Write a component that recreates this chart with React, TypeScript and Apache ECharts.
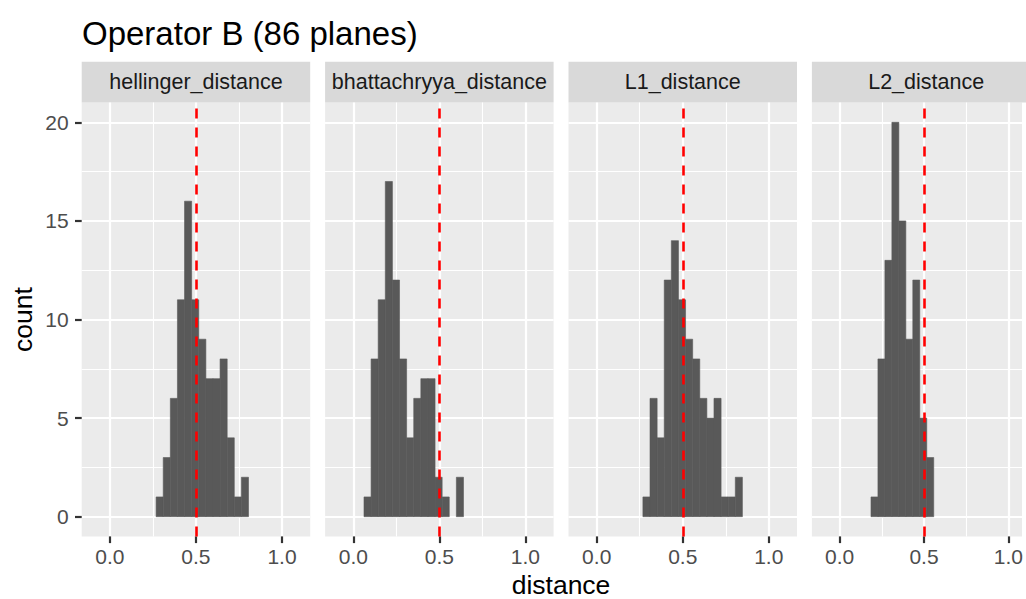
import React, { useEffect, useRef } from "react";
import * as echarts from "echarts";

// ---- data ----
const chartTitle = "Operator B (86 planes)";
const panelNames = ["hellinger_distance", "bhattachryya_distance", "L1_distance", "L2_distance"];
const binOrigin = 0.062; // left edge of first histogram bin (shared across panels)
const binWidth = 0.0413;
const firstBin = [5, 0, 5, 3];
const hellingerCounts = [1, 3, 6, 11, 16, 11, 9, 7, 7, 8, 4, 1, 2];
const bhattachryyaCounts = [1, 8, 11, 17, 12, 8, 4, 6, 7, 7, 2, 1, 0, 2];
const l1Counts = [1, 6, 4, 12, 14, 11, 9, 8, 6, 5, 6, 1, 1, 2];
const l2Counts = [1, 8, 13, 20, 15, 9, 12, 5, 3];
const panelCounts = [hellingerCounts, bhattachryyaCounts, l1Counts, l2Counts];
const thresholdValue = 0.5;
const xMajorTicks = [0, 0.5, 1.0];
const xMinorTicks = [0.25, 0.75];
const yMajorTicks = [0, 5, 10, 15, 20];
const yMinorTicks = [2.5, 7.5, 12.5, 17.5];
const xTitle = "distance";
const yTitle = "count";

// ---- layout / style ----
const FONT = "'Liberation Sans', Arial, sans-serif";
const CHART_W = 1026;
const PANEL_LEFT = 81.7;
const PANEL_W = 228.5;
const PANEL_GAP = 14.9;
const PANEL_TOP = 102.6;
const PANEL_H = 433.8;
const STRIP_TOP = 61.8;
const X_MIN = -0.164;
const X_MAX = 1.164;
const Y_MIN = -1;
const Y_MAX = 21;
const MAJOR_W = 2.2;
const MINOR_W = 1.1;

function buildOption() {
  const grids: any[] = [];
  const xAxes: any[] = [];
  const yAxes: any[] = [];
  const series: any[] = [];
  const graphics: any[] = [];
  const pxPerUnit = PANEL_W / (X_MAX - X_MIN);

  panelNames.forEach((name, i) => {
    const left = PANEL_LEFT + i * (PANEL_W + PANEL_GAP);
    // the last panel runs past the picture's right edge: keep its grid inside the
    // container and cut its x range at the same scale instead
    const visibleW = Math.min(PANEL_W, CHART_W - left);
    const xMax = X_MIN + visibleW / pxPerUnit;
    grids.push({
      left,
      top: PANEL_TOP,
      width: visibleW,
      height: PANEL_H,
      show: true,
      backgroundColor: "#EBEBEB",
      borderWidth: 0,
    });
    xAxes.push({
      type: "value",
      gridIndex: i,
      min: X_MIN,
      max: xMax,
      position: "bottom",
      axisLine: { show: false, onZero: false },
      axisTick: {
        show: true,
        customValues: xMajorTicks,
        length: 6.7,
        lineStyle: { color: "#333333", width: MAJOR_W },
      },
      axisLabel: {
        customValues: xMajorTicks,
        formatter: (v: number) => v.toFixed(1),
        color: "#4D4D4D",
        fontSize: 21,
        fontFamily: FONT,
        margin: 10,
      },
      splitLine: { show: true, lineStyle: { color: "#FFFFFF", width: MAJOR_W } },
    });
    xAxes.push({
      type: "value",
      gridIndex: i,
      min: X_MIN,
      max: xMax,
      position: "top",
      axisLine: { show: false, onZero: false },
      axisTick: { show: false, customValues: xMinorTicks },
      axisLabel: { show: false, customValues: xMinorTicks },
      splitLine: { show: true, lineStyle: { color: "#FFFFFF", width: MINOR_W } },
    });
    yAxes.push({
      type: "value",
      gridIndex: i,
      min: Y_MIN,
      max: Y_MAX,
      position: "left",
      axisLine: { show: false, onZero: false },
      axisTick: {
        show: i === 0,
        customValues: yMajorTicks,
        length: 6.7,
        lineStyle: { color: "#333333", width: MAJOR_W },
      },
      axisLabel: {
        show: i === 0,
        customValues: yMajorTicks,
        color: "#4D4D4D",
        fontSize: 21,
        fontFamily: FONT,
        margin: 13,
      },
      splitLine: { show: true, lineStyle: { color: "#FFFFFF", width: MAJOR_W } },
    });
    yAxes.push({
      type: "value",
      gridIndex: i,
      min: Y_MIN,
      max: Y_MAX,
      position: "right",
      axisLine: { show: false, onZero: false },
      axisTick: { show: false, customValues: yMinorTicks },
      axisLabel: { show: false, customValues: yMinorTicks },
      splitLine: { show: true, lineStyle: { color: "#FFFFFF", width: MINOR_W } },
    });

    const counts = panelCounts[i];
    const data = counts.map((c, k) => {
      const b = firstBin[i] + k;
      const x0 = binOrigin + b * binWidth;
      return [x0, x0 + binWidth, c];
    });

    series.push({
      type: "custom",
      name,
      xAxisIndex: 2 * i,
      yAxisIndex: 2 * i,
      data,
      encode: { x: [0, 1], y: 2 },
      renderItem: (params: any, api: any) => {
        const c = api.value(2);
        if (!c) return null;
        const p0 = api.coord([api.value(0), c]);
        const p1 = api.coord([api.value(1), 0]);
        return {
          type: "rect",
          shape: { x: p0[0], y: p0[1], width: p1[0] - p0[0], height: p1[1] - p0[1] },
          style: { fill: "#595959", stroke: "#595959", lineWidth: 0.6 },
        };
      },
      markLine: {
        silent: true,
        symbol: ["none", "none"],
        label: { show: false },
        lineStyle: { color: "#FF0000", type: [10, 9], width: 2.6 },
        data: [{ xAxis: thresholdValue }],
      },
    });

    graphics.push({
      type: "rect",
      shape: { x: left, y: STRIP_TOP, width: visibleW, height: PANEL_TOP - STRIP_TOP },
      style: { fill: "#D9D9D9" },
      silent: true,
    });
    graphics.push({
      type: "text",
      x: left + PANEL_W / 2,
      y: (STRIP_TOP + PANEL_TOP) / 2,
      style: {
        text: name,
        fill: "#1A1A1A",
        fontSize: 21.5,
        fontFamily: FONT,
        align: "center",
        verticalAlign: "middle",
      },
      silent: true,
    });
  });

  graphics.push({
    type: "text",
    x: 82,
    y: 33,
    style: {
      text: chartTitle,
      fill: "#000000",
      fontSize: 33,
      fontFamily: FONT,
      align: "left",
      verticalAlign: "middle",
    },
  });
  graphics.push({
    type: "text",
    x: 561,
    y: 585,
    style: {
      text: xTitle,
      fill: "#000000",
      fontSize: 26.5,
      lineHeight: 26,
      fontFamily: FONT,
      align: "center",
      verticalAlign: "middle",
    },
  });
  graphics.push({
    type: "text",
    x: 22.6,
    y: PANEL_TOP + PANEL_H / 2,
    rotation: Math.PI / 2,
    style: {
      text: yTitle,
      fill: "#000000",
      fontSize: 26.5,
      fontFamily: FONT,
      align: "center",
      verticalAlign: "middle",
    },
  });

  return {
    animation: false,
    backgroundColor: "#FFFFFF",
    textStyle: { fontFamily: FONT },
    grid: grids,
    xAxis: xAxes,
    yAxis: yAxes,
    series,
    graphic: graphics,
  };
}

export default function App() {
  const ref = useRef<HTMLDivElement>(null);
  useEffect(() => {
    if (!ref.current) return;
    const chart = echarts.init(ref.current, null, { renderer: "svg" });
    chart.setOption(buildOption() as any);
    return () => {
      chart.dispose();
    };
  }, []);
  return (
    <div
      ref={ref}
      style={{ position: "fixed", left: 0, top: 0, width: CHART_W, height: 599, background: "#FFFFFF" }}
    />
  );
}
